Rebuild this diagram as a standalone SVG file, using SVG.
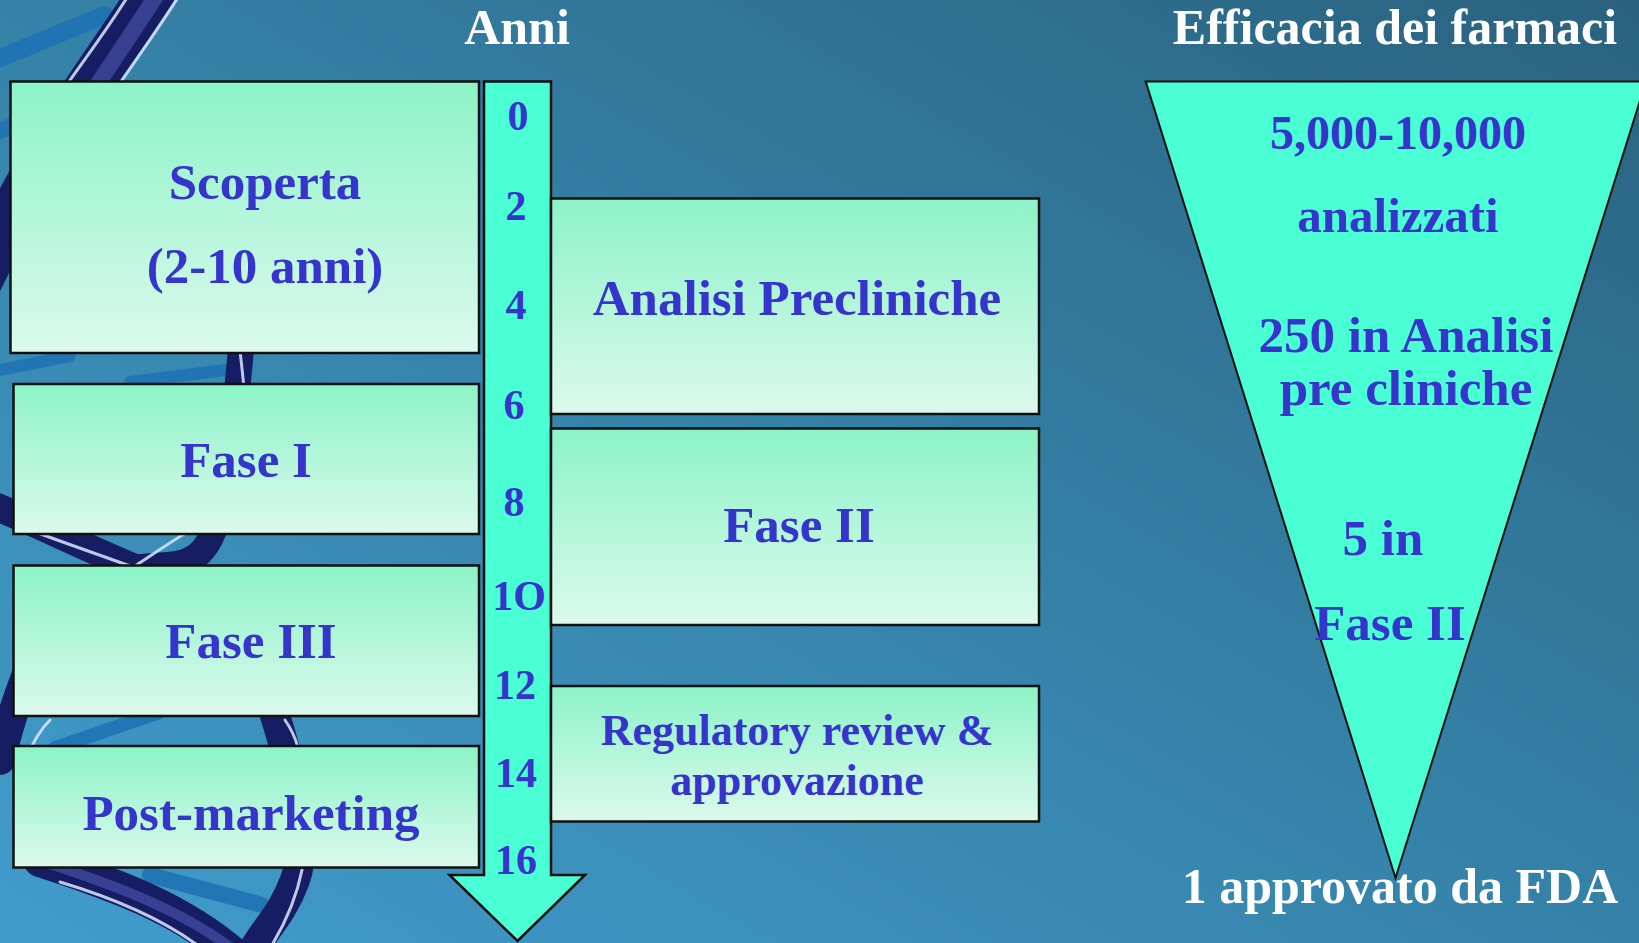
<svg xmlns="http://www.w3.org/2000/svg" width="1639" height="943" viewBox="0 0 1639 943">
  <defs>
    <linearGradient id="bg" x1="0" y1="1" x2="1" y2="0">
      <stop offset="0" stop-color="#419ccc"/>
      <stop offset="0.5" stop-color="#3582a8"/>
      <stop offset="1" stop-color="#2a627f"/>
    </linearGradient>
    <linearGradient id="boxg" x1="0" y1="0" x2="0" y2="1">
      <stop offset="0" stop-color="#8cf3c8"/>
      <stop offset="1" stop-color="#dcf9ec"/>
    </linearGradient>
    <style>
      .box { fill: url(#boxg); stroke: #111; stroke-width: 2.5; }
      .lbl { font-family: "Liberation Serif", "Times New Roman", serif; font-weight: bold; fill: #3535cc; text-anchor: middle; }
      .big { font-size: 51px; }
      .med { font-size: 44px; }
      .num { font-size: 42px; }
      .ttl { font-family: "Liberation Serif", "Times New Roman", serif; font-weight: bold; fill: #ffffff; text-anchor: middle; font-size: 50px; }
      .dna { fill: none; stroke: #161d62; stroke-linecap: round; }
      .mid { fill: none; stroke: #4650a8; stroke-linecap: round; opacity: 0.7; }
      .hl { fill: none; stroke: #dbe8ff; stroke-width: 3; stroke-linecap: round; opacity: 0.85; }
      .bar { fill: none; stroke: #1f72b4; stroke-linecap: round; opacity: 0.9; }
    </style>
  </defs>

  <rect x="0" y="0" width="1639" height="943" fill="url(#bg)"/>

  <!-- DNA helix background decoration -->
  <g id="helix">
    <path class="bar" stroke-width="18" d="M -10,62 L 105,15"/>
    <path class="bar" stroke-width="16" d="M -10,135 L 85,95"/>
    <path class="bar" stroke-width="12" d="M -10,372 L 70,356"/>
    <path class="bar" stroke-width="12" d="M 130,382 L 225,370"/>
    <path class="bar" stroke-width="14" d="M 55,748 L 160,712"/>
    <path class="bar" stroke-width="16" d="M 150,875 L 262,905"/>
    <path class="dna" stroke-width="46" d="M 160,-20 C 125,35 95,75 60,130 S 0,240 -30,300"/>
    <path class="mid" stroke-width="16" d="M 166,-20 C 132,35 102,75 70,128"/>
    <path class="hl" d="M 138,-20 C 108,30 82,62 66,86"/>
    <path class="hl" d="M 184,-12 C 158,30 132,65 118,86"/>
    <path class="dna" stroke-width="26" d="M 245,300 C 240,360 236,420 222,500 S 172,560 135,568"/>
    <path class="hl" d="M 240,350 C 241,362 243,374 244,390"/>
    <path class="dna" stroke-width="28" d="M -20,500 C 30,520 80,545 135,568"/>
    <path class="hl" d="M 30,530 C 70,545 100,555 130,566"/>
    <path class="hl" d="M 135,566 C 160,550 180,535 200,525"/>
    <path class="dna" stroke-width="30" d="M 40,640 C 20,690 10,720 0,760"/>
    <path class="hl" d="M 50,720 C 40,730 35,740 30,750"/>
    <path class="dna" stroke-width="30" d="M 270,700 C 290,760 310,840 295,880 S 262,930 248,960"/>
    <path class="hl" d="M 285,720 C 292,730 296,740 298,748"/>
    <path class="hl" d="M 302,870 C 297,895 287,920 272,945"/>
    <path class="dna" stroke-width="34" d="M 40,860 C 100,880 180,905 240,960"/>
    <path class="mid" stroke-width="10" d="M 50,864 C 110,884 185,910 240,955"/>
    <path class="hl" d="M 60,882 C 110,897 160,917 200,947"/>
  </g>

  <!-- Titles -->
  <g id="title-anni">
    <text class="ttl" x="517" y="44" font-size="47">Anni</text>
  </g>
  <g id="title-efficacia">
    <text class="ttl" x="1395" y="44">Efficacia dei farmaci</text>
  </g>

  <!-- Timeline arrow -->
  <g id="timeline-arrow">
    <polygon points="484,81.5 551,81.5 551,875 585,875 517.5,941 449.5,875 484,875" fill="#4affd4" stroke="#111" stroke-width="2.5" stroke-linejoin="miter"/>
    <text class="lbl num" x="518" y="130">0</text>
    <text class="lbl num" x="516" y="220">2</text>
    <text class="lbl num" x="516" y="319">4</text>
    <text class="lbl num" x="514" y="419">6</text>
    <text class="lbl num" x="514" y="516">8</text>
    <text class="lbl num" x="519" y="610">1O</text>
    <text class="lbl num" x="515" y="699">12</text>
    <text class="lbl num" x="516" y="787">14</text>
    <text class="lbl num" x="516" y="874">16</text>
  </g>

  <!-- Left column -->
  <g id="scoperta">
    <rect class="box" x="10.5" y="81.5" width="468.5" height="271.5"/>
    <text class="lbl big" x="265" y="199">Scoperta</text>
    <text class="lbl big" x="265" y="283">(2-10 anni)</text>
  </g>
  <g id="fase-1">
    <rect class="box" x="13.5" y="384" width="465.5" height="150"/>
    <text class="lbl big" x="246" y="477">Fase I</text>
  </g>
  <g id="fase-3">
    <rect class="box" x="13.5" y="565.5" width="465.5" height="150.5"/>
    <text class="lbl big" x="251" y="658">Fase III</text>
  </g>
  <g id="post-marketing">
    <rect class="box" x="13.5" y="746" width="465.5" height="121.5"/>
    <text class="lbl big" x="251" y="830">Post-marketing</text>
  </g>

  <!-- Right column -->
  <g id="analisi-precliniche">
    <rect class="box" x="551" y="198.5" width="488" height="215.5"/>
    <text class="lbl big" x="797" y="315">Analisi Precliniche</text>
  </g>
  <g id="fase-2">
    <rect class="box" x="551" y="428.5" width="488" height="196.5"/>
    <text class="lbl big" x="799" y="542">Fase II</text>
  </g>
  <g id="regulatory">
    <rect class="box" x="551" y="686" width="488" height="135.5"/>
    <text class="lbl med" x="797" y="745">Regulatory review &amp;</text>
    <text class="lbl med" x="797" y="795">approvazione</text>
  </g>

  <!-- Funnel -->
  <g id="funnel">
    <polygon points="1145.7,81.5 1646,81.5 1395.5,878" fill="#4affd4" stroke="#111" stroke-width="2"/>
    <text class="lbl" font-size="48" x="1398" y="149">5,000-10,000</text>
    <text class="lbl" font-size="49" x="1398" y="232">analizzati</text>
    <text class="lbl big" x="1406" y="352">250 in Analisi</text>
    <text class="lbl big" x="1406" y="405">pre cliniche</text>
    <text class="lbl big" x="1383" y="555">5 in</text>
    <text class="lbl big" x="1390" y="640">Fase II</text>
  </g>
  <g id="approvato">
    <text class="ttl" x="1400" y="903">1 approvato da FDA</text>
  </g>

  <g id="connectors"/>
</svg>
